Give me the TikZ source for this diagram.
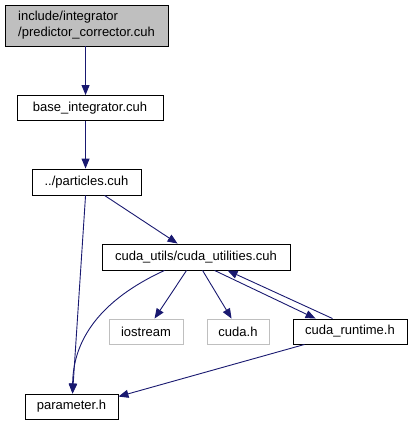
\documentclass[tikz,border=0pt]{standalone}
\usepackage{fontspec}
\setmainfont{Liberation Sans}
\usetikzlibrary{arrows.meta,calc}
\definecolor{edgeblue}{HTML}{191970}
\definecolor{boxgray}{HTML}{BFBFBF}
\begin{document}
\begin{tikzpicture}[x=1pt,y=-1pt,
  every node/.style={font=\fontsize{13}{16}\selectfont},
  box/.style={draw=black,line width=0.9pt,fill=white,inner sep=0pt,minimum height=25pt,anchor=center},
  graybox/.style={box,draw=boxgray},
  topbox/.style={box,fill=boxgray,minimum height=41pt,align=left},
  edge/.style={draw=edgeblue,line width=0.9pt,-{Triangle[length=10pt,width=8pt]}}]
\useasboundingbox (0,0) rectangle (413,425);
\node[topbox,minimum width=163pt] (top) at (86.5,25.5) {include/integrator\\/predictor\_corrector.cuh};
\node[box,minimum width=146pt] (base) at (90,108) {base\_integrator.cuh};
\node[box,minimum width=109pt,minimum height=26pt] (part) at (86.5,182) {../particles.cuh};
\node[box,minimum width=188pt,minimum height=26pt] (util) at (196,257) {cuda\_utils/cuda\_utilities.cuh};
\node[graybox,minimum width=74pt] (ios) at (146,331.5) {iostream};
\node[graybox,minimum width=62pt] (cudah) at (238,331.5) {cuda.h};
\node[box,minimum width=114pt] (rt) at (350,331.5) {cuda\_runtime.h};
\node[box,minimum width=93pt] (param) at (71.5,406.5) {parameter.h};
\draw[edge] ($(top.south west)+(81,0)$) -- ($(base.north west)+(69,0)$);
\draw[edge] ($(base.south west)+(69,0)$) -- ($(part.north west)+(54,0)$);
\draw[edge] ($(part.south west)+(54,0)$) -- ($(param.north west)+(48,0)$);
\draw[edge] ($(part.south west)+(73,0)$) -- ($(util.north west)+(76,0)$);
\draw[edge] ($(util.south west)+(63,0)$) .. controls (100,300) and (73,340) .. ($(param.north west)+(48,0)$);
\draw[edge] ($(util.south west)+(85,0)$) -- ($(ios.north west)+(46,0)$);
\draw[edge] ($(util.south west)+(101,0)$) -- ($(cudah.north west)+(25,0)$);
\draw[edge] ($(util.south west)+(113,0)$) -- ($(rt.north west)+(23,0)$);
\draw[edge] ($(rt.north west)+(40,0)$) -- ($(util.south west)+(126,0)$);
\draw[edge] ($(rt.south west)+(12,0)$) -- ($(param.north east)+(0,3)$);
\end{tikzpicture}
\end{document}
